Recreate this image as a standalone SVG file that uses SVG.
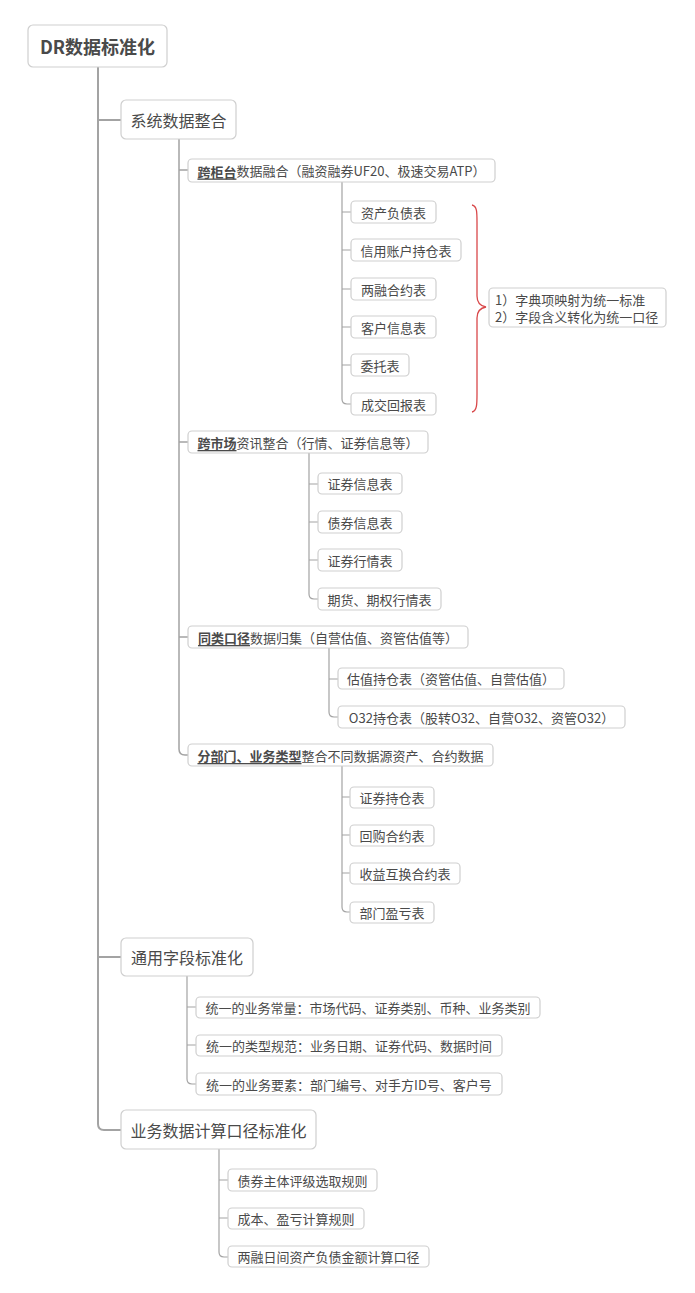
<svg xmlns="http://www.w3.org/2000/svg" width="695" height="1293" viewBox="0 0 695 1293">
<style>
text{font-family:"Noto Sans CJK SC","Liberation Sans",sans-serif;fill:#4a4a4a;text-anchor:middle;dominant-baseline:central}
.box{fill:#fff;stroke:#cfcfcf;stroke-width:1.2}
.t0{font-size:18px;font-weight:bold}
.t1{font-size:16px}
.t2{font-size:13px}
.l{text-anchor:start}
.b{font-weight:bold;text-decoration:underline}
.c{fill:none;stroke:#a3a3a3;stroke-width:1.2}
.c0{fill:none;stroke:#a3a3a3;stroke-width:2}
.c1{fill:none;stroke:#a3a3a3;stroke-width:1.5}
.brace{fill:none;stroke:#d9484a;stroke-width:1.3}
</style>
<rect width="695" height="1293" fill="#fff"/>
<g id="connectors">
<path class="c0" d="M98,67 V1124 Q98,1130 104,1130 H121 M98,120 H121 M98,957 H121"/>
<path class="c1" d="M179,139 V749 Q179,755 185,755 H188 M179,170 H188 M179,442 H188 M179,637 H188"/>
<path class="c" d="M342,182 V399 Q342,404 347,404 H351 M342,212 H351 M342,250 H351 M342,289 H351 M342,327 H351 M342,365 H351"/>
<path class="c" d="M309,453 V594 Q309,599 314,599 H318 M309,484 H318 M309,522 H318 M309,560 H318"/>
<path class="c" d="M329,648 V712 Q329,717 334,717 H338 M329,679 H338"/>
<path class="c" d="M342,766 V907 Q342,912 347,912 H350 M342,797 H350 M342,835 H350 M342,873 H350"/>
<path class="c" d="M187,976 V1079 Q187,1084 192,1084 H196 M187,1007 H196 M187,1045 H196"/>
<path class="c" d="M219,1149 V1252 Q219,1257 224,1257 H228 M219,1180 H228 M219,1218 H228"/>
<path class="brace" d="M472,205 C477,206 477,212 477,222 L477,296 C477,303 480,306 486,307 C480,308 477,311 477,318 L477,394 C477,404 477,411 472,412"/>
</g>
<g id="root"><rect class="box" x="28" y="25" width="139" height="42" rx="5"/><text class="t0" x="97.5" y="46">DR数据标准化</text></g>
<g id="n1"><rect class="box" x="121" y="100" width="115" height="39" rx="5"/><text class="t1" x="178.5" y="119.5">系统数据整合</text></g>
<g id="n1a"><rect class="box" x="188" y="159" width="307" height="23" rx="4"/><text class="t2" x="341.5" y="170.5"><tspan class="b">跨柜台</tspan>数据融合（融资融券UF20、极速交易ATP）</text></g>
<g id="n1a1"><rect class="box" x="351" y="201" width="85" height="22" rx="4"/><text class="t2" x="393.5" y="212">资产负债表</text></g>
<g id="n1a2"><rect class="box" x="351" y="239" width="110" height="22" rx="4"/><text class="t2" x="406" y="250">信用账户持仓表</text></g>
<g id="n1a3"><rect class="box" x="351" y="278" width="85" height="22" rx="4"/><text class="t2" x="393.5" y="289">两融合约表</text></g>
<g id="n1a4"><rect class="box" x="351" y="316" width="85" height="22" rx="4"/><text class="t2" x="393.5" y="327">客户信息表</text></g>
<g id="n1a5"><rect class="box" x="351" y="354" width="58" height="22" rx="4"/><text class="t2" x="380" y="365">委托表</text></g>
<g id="n1a6"><rect class="box" x="351" y="393" width="85" height="22" rx="4"/><text class="t2" x="393.5" y="404">成交回报表</text></g>
<g id="note"><rect class="box" x="489" y="288" width="177" height="39" rx="4"/><text class="t2 l" x="495" y="299">1）字典项映射为统一标准</text><text class="t2 l" x="495" y="316">2）字段含义转化为统一口径</text></g>
<g id="n1b"><rect class="box" x="188" y="431" width="240" height="22" rx="4"/><text class="t2" x="308" y="442"><tspan class="b">跨市场</tspan>资讯整合（行情、证券信息等）</text></g>
<g id="n1b1"><rect class="box" x="318" y="473" width="84" height="21" rx="4"/><text class="t2" x="360" y="483.5">证券信息表</text></g>
<g id="n1b2"><rect class="box" x="318" y="511" width="84" height="22" rx="4"/><text class="t2" x="360" y="522">债券信息表</text></g>
<g id="n1b3"><rect class="box" x="318" y="549" width="84" height="22" rx="4"/><text class="t2" x="360" y="560">证券行情表</text></g>
<g id="n1b4"><rect class="box" x="318" y="588" width="123" height="22" rx="4"/><text class="t2" x="379.5" y="599">期货、期权行情表</text></g>
<g id="n1c"><rect class="box" x="188" y="626" width="280" height="22" rx="4"/><text class="t2" x="328" y="637"><tspan class="b">同类口径</tspan>数据归集（自营估值、资管估值等）</text></g>
<g id="n1c1"><rect class="box" x="338" y="668" width="226" height="21" rx="4"/><text class="t2" x="451" y="678.5">估值持仓表（资管估值、自营估值）</text></g>
<g id="n1c2"><rect class="box" x="338" y="706" width="287" height="22" rx="4"/><text class="t2" x="481.5" y="717">O32持仓表（股转O32、自营O32、资管O32）</text></g>
<g id="n1d"><rect class="box" x="188" y="744" width="305" height="22" rx="4"/><text class="t2" x="340.5" y="755"><tspan class="b">分部门、业务类型</tspan>整合不同数据源资产、合约数据</text></g>
<g id="n1d1"><rect class="box" x="350" y="787" width="84" height="21" rx="4"/><text class="t2" x="392" y="797.5">证券持仓表</text></g>
<g id="n1d2"><rect class="box" x="350" y="825" width="84" height="21" rx="4"/><text class="t2" x="392" y="835.5">回购合约表</text></g>
<g id="n1d3"><rect class="box" x="350" y="863" width="110" height="21" rx="4"/><text class="t2" x="405" y="873.5">收益互换合约表</text></g>
<g id="n1d4"><rect class="box" x="350" y="902" width="84" height="21" rx="4"/><text class="t2" x="392" y="912.5">部门盈亏表</text></g>
<g id="n2"><rect class="box" x="121" y="938" width="132" height="38" rx="5"/><text class="t1" x="187" y="957">通用字段标准化</text></g>
<g id="n2a"><rect class="box" x="196" y="997" width="344" height="21" rx="4"/><text class="t2" x="368" y="1007.5">统一的业务常量：市场代码、证券类别、币种、业务类别</text></g>
<g id="n2b"><rect class="box" x="196" y="1035" width="306" height="21" rx="4"/><text class="t2" x="349" y="1045.5">统一的类型规范：业务日期、证券代码、数据时间</text></g>
<g id="n2c"><rect class="box" x="196" y="1073" width="306" height="22" rx="4"/><text class="t2" x="349" y="1084">统一的业务要素：部门编号、对手方ID号、客户号</text></g>
<g id="n3"><rect class="box" x="121" y="1110" width="195" height="39" rx="5"/><text class="t1" x="218.5" y="1129.5">业务数据计算口径标准化</text></g>
<g id="n3a"><rect class="box" x="228" y="1169" width="149" height="22" rx="4"/><text class="t2" x="302.5" y="1180">债券主体评级选取规则</text></g>
<g id="n3b"><rect class="box" x="228" y="1208" width="136" height="21" rx="4"/><text class="t2" x="296" y="1218.5">成本、盈亏计算规则</text></g>
<g id="n3c"><rect class="box" x="228" y="1246" width="201" height="21" rx="4"/><text class="t2" x="328.5" y="1256.5">两融日间资产负债金额计算口径</text></g>
</svg>
